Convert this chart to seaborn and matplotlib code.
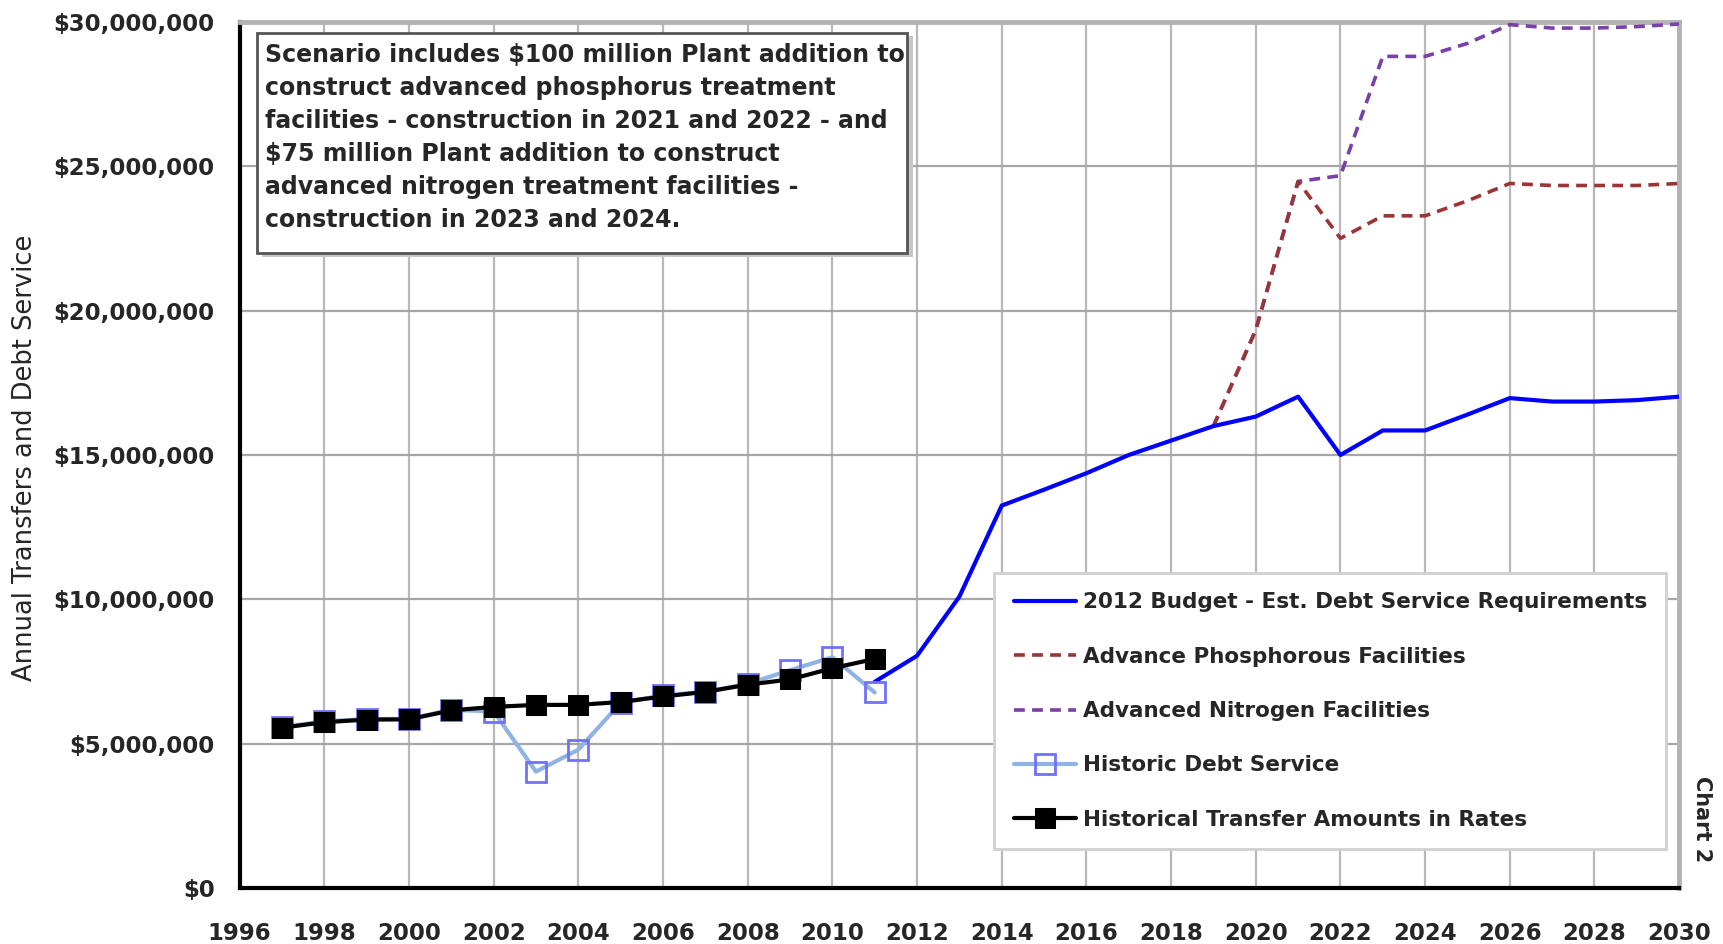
import matplotlib
matplotlib.use('Agg')
import matplotlib.pyplot as plt
import matplotlib.patches as patches
from matplotlib.ticker import FuncFormatter, MultipleLocator
import seaborn as sns

# values in millions of dollars
hist_years = [1997, 1998, 1999, 2000, 2001, 2002, 2003, 2004, 2005, 2006,
              2007, 2008, 2009, 2010, 2011]
historic_debt = [5.58, 5.78, 5.86, 5.86, 6.18, 6.12, 4.04, 4.80, 6.42, 6.68,
                 6.80, 7.08, 7.55, 8.00, 6.78]
transfer_rates = [5.56, 5.75, 5.84, 5.85, 6.16, 6.28, 6.35, 6.35, 6.45, 6.64,
                  6.80, 7.05, 7.23, 7.62, 7.94]

budget_years = list(range(2011, 2031))
budget_2012 = [7.15, 8.05, 10.1, 13.25, 13.8, 14.37, 15.0, 15.5, 16.0, 16.33,
               17.02, 15.0, 15.85, 15.85, 16.4, 16.97, 16.85, 16.85, 16.9, 17.02]

scen_years = list(range(2019, 2031))
phosphorus = [16.0, 19.33, 24.47, 22.5, 23.28, 23.28, 23.8, 24.4, 24.33, 24.33,
              24.33, 24.4]
nitrogen = [16.0, 19.33, 24.47, 24.67, 28.8, 28.8, 29.25, 29.9, 29.78, 29.78,
            29.83, 29.92]

labels = ['2012 Budget - Est. Debt Service Requirements',
          'Advance Phosphorous Facilities',
          'Advanced Nitrogen Facilities',
          'Historic Debt Service',
          'Historical Transfer Amounts in Rates']

note = ('Scenario includes $100 million Plant addition to\n'
        'construct advanced phosphorus treatment\n'
        'facilities - construction in 2021 and 2022 - and\n'
        '$75 million Plant addition to construct\n'
        'advanced nitrogen treatment facilities -\n'
        'construction in 2023 and 2024.')

sns.set_style('white')
plt.rcParams['font.family'] = ['DejaVu Sans']

fig = plt.figure(figsize=(17.24, 9.44), dpi=100)
ax = fig.add_axes([0.139, 0.059, 0.835, 0.918])

# dashed scenario lines (nitrogen under phosphorus where they overlap)
sns.lineplot(x=scen_years, y=[v * 1e6 for v in nitrogen], ax=ax, color='#7a3fa8',
             lw=2.6, linestyle=(0, (3, 2)), zorder=3, label=labels[2])
sns.lineplot(x=scen_years, y=[v * 1e6 for v in phosphorus], ax=ax, color='#9b3535',
             lw=2.6, linestyle=(0, (3, 2)), zorder=4, label=labels[1])
sns.lineplot(x=budget_years, y=[v * 1e6 for v in budget_2012], ax=ax, color='#0000ff',
             lw=3, zorder=5, label=labels[0])
sns.lineplot(x=hist_years, y=[v * 1e6 for v in historic_debt], ax=ax, color='#8fb4e3',
             lw=3, marker='s', markersize=15, markerfacecolor='none',
             markeredgecolor='#7070ff', markeredgewidth=2, zorder=6, label=labels[3])
sns.lineplot(x=hist_years, y=[v * 1e6 for v in transfer_rates], ax=ax, color='black',
             lw=3, marker='s', markersize=14, markerfacecolor='black',
             markeredgecolor='black', zorder=7, label=labels[4])

ax.set_xlim(1996, 2030)
ax.set_ylim(0, 30e6)
ax.xaxis.set_major_locator(MultipleLocator(2))
ax.yaxis.set_major_locator(MultipleLocator(5e6))
ax.yaxis.set_major_formatter(FuncFormatter(lambda v, p: '${:,.0f}'.format(v)))
ax.grid(True, axis='x', color='#b8b8b8', lw=1.6)
ax.grid(True, axis='y', color='#a6a6a6', lw=1.6)
ax.set_axisbelow(True)

for side in ['top', 'right']:
    ax.spines[side].set_color('#b3b3b3')
    ax.spines[side].set_linewidth(3.5)
for side in ['left', 'bottom']:
    ax.spines[side].set_color('black')
    ax.spines[side].set_linewidth(3)

ax.tick_params(axis='both', which='major', length=6, width=1.5, color='#a6a6a6',
               direction='out', labelsize=16.5)
ax.tick_params(axis='x', pad=18)
ax.tick_params(axis='y', pad=12)
for t in ax.get_xticklabels() + ax.get_yticklabels():
    t.set_fontweight('bold')

ax.set_xlabel('')
ax.set_ylabel('Annual Transfers and Debt Service', fontsize=18.5)
ax.yaxis.set_label_coords(-0.140, 0.497)

# note box with a shadow
ax.add_patch(patches.Rectangle((0.0158, 0.729), 0.452, 0.254, transform=ax.transAxes,
                               facecolor='#c8c8c8', edgecolor='none', zorder=8))
ax.add_patch(patches.Rectangle((0.0118, 0.733), 0.452, 0.254, transform=ax.transAxes,
                               facecolor='white', edgecolor='#555555', lw=2, zorder=9))
ax.text(0.0175, 0.975, note, transform=ax.transAxes, ha='left', va='top',
        fontsize=17, fontweight='bold', linespacing=1.47, zorder=10)

handles, labs = ax.get_legend_handles_labels()
order = [labs.index(l) for l in labels]
leg = ax.legend([handles[i] for i in order], [labs[i] for i in order],
                loc='lower right', bbox_to_anchor=(0.991, 0.045), borderaxespad=0,
                prop={'size': 15.5, 'weight': 'bold'}, frameon=True, fancybox=False,
                edgecolor='#d0d0d0', framealpha=1, handlelength=2.9,
                labelspacing=1.6, borderpad=0.9, handletextpad=0.3)
leg.get_frame().set_linewidth(2)
leg.set_zorder(11)

fig.text(0.987, 0.132, 'Chart 2', rotation=-90, fontsize=15, fontweight='bold',
         ha='center', va='center')

plt.savefig('out.png', dpi=100)
